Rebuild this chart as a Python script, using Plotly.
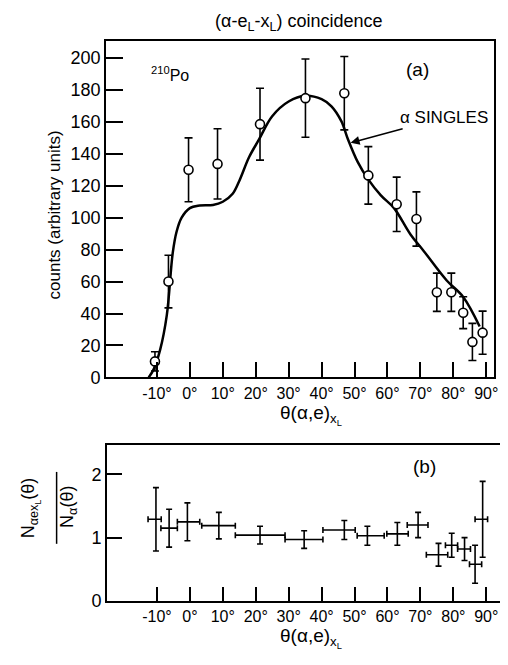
import plotly.graph_objects as go

W, H = 508, 665

# ---- panel (a): coincidence counts ----
theta_a = [-10.6, -6.5, -0.4, 8.4, 21.3, 35.1, 46.9, 54.2, 62.8, 68.8, 75.0, 79.4, 83.0, 85.8, 88.9]
counts_a = [10, 60, 130, 133.7, 158.6, 174.9, 178, 126.5, 108.4, 99.2, 53.3, 53.3, 40.5, 22.2, 28]
err_a = [6, 16.5, 20, 22, 22.5, 24.5, 23, 18, 17, 17, 12, 12, 10, 11.6, 13.5]

# alpha singles curve
theta_s = [-12.5, -11, -9, -7, -5.2, -4, -2.5, 0, 3, 7, 10, 13, 15, 18, 21, 25, 30, 35, 40,
           43, 46, 48, 51, 54, 58, 62, 67, 71, 78, 83, 88]
singles = [0, 5, 17.5, 39, 78, 91.5, 100, 106, 107.6, 108, 110, 115, 123, 138, 149, 163.6,
           172.8, 176.4, 174.3, 169.8, 160.5, 149.2, 134.8, 124.5, 114, 106, 89.5, 79.2,
           60.7, 50.4, 31.9]

# ---- panel (b): ratio ----
theta_b = [-10.3, -6.3, -0.75, 8.8, 21.3, 34.7, 46.9, 53.9, 63.0, 69.3, 75.5, 79.5, 83.4, 86.6, 88.9]
theta_b_lo = [-12.7, -8.8, -3.8, 3.6, 13.8, 28.9, 40.4, 50.8, 59.8, 66.0, 71.8, 77.6, 81.3, 84.9, 86.6]
theta_b_hi = [-8.7, -3.8, 3.0, 13.8, 28.9, 40.4, 50.2, 59.0, 66.3, 72.3, 78.3, 81.3, 85.2, 88.6, 90.4]
ratio_b = [1.29, 1.15, 1.25, 1.19, 1.04, 0.97, 1.12, 1.03, 1.06, 1.20, 0.73, 0.88, 0.82, 0.58, 1.29]
err_b = [0.5, 0.3, 0.3, 0.21, 0.14, 0.14, 0.15, 0.15, 0.18, 0.2, 0.18, 0.19, 0.18, 0.3, 0.6]

xticks = [-10, 0, 10, 20, 30, 40, 50, 60, 70, 80, 90]
xticktext = [f"{v}°" for v in xticks]
yticks_a = [0, 20, 40, 60, 80, 100, 120, 140, 160, 180, 200]
yticks_b = [0, 1, 2]

FONT = "Liberation Sans"

def px(x):
    return x / W

def py(y):
    return 1 - y / H

fig = go.Figure()

fig.add_trace(go.Scatter(
    x=theta_s, y=singles, mode="lines", line=dict(color="black", width=2.5, shape="spline"),
    xaxis="x", yaxis="y", showlegend=False, hoverinfo="skip"))

fig.add_trace(go.Scatter(
    x=theta_a, y=counts_a, mode="markers",
    marker=dict(symbol="circle", size=9, color="white", line=dict(color="black", width=1.6)),
    error_y=dict(type="data", array=err_a, visible=True, color="black", thickness=1.6, width=4),
    xaxis="x", yaxis="y", showlegend=False))

fig.add_trace(go.Scatter(
    x=theta_b, y=ratio_b, mode="markers", marker=dict(size=1, color="black", opacity=0),
    error_y=dict(type="data", array=err_b, visible=True, color="black", thickness=1.6, width=3),
    error_x=dict(type="data", symmetric=False,
                 array=[h - c for h, c in zip(theta_b_hi, theta_b)],
                 arrayminus=[c - l for l, c in zip(theta_b_lo, theta_b)],
                 visible=True, color="black", thickness=1.6, width=3),
    xaxis="x2", yaxis="y2", showlegend=False))

axis_common = dict(showline=True, linewidth=2, linecolor="black", mirror=True,
                   ticks="inside", tickwidth=2, tickcolor="black", showgrid=False,
                   zeroline=False)

fig.update_layout(
    width=W, height=H, margin=dict(l=0, r=0, t=0, b=0),
    paper_bgcolor="white", plot_bgcolor="white",
    font=dict(family=FONT, color="black", size=16),
    xaxis=dict(domain=[px(99), px(490)], range=[-25.4, 92.4], anchor="y",
               tickvals=xticks, ticktext=xticktext, ticklen=15,
               tickfont=dict(size=16), **axis_common),
    yaxis=dict(domain=[py(375), py(33)], range=[0, 211], anchor="x",
               tickvals=yticks_a, ticklen=17, tickfont=dict(size=18), **axis_common),
    xaxis2=dict(domain=[px(100), px(499)], range=[-25.1, 95.1], anchor="y2",
                tickvals=xticks, ticktext=xticktext, ticklen=14,
                tickfont=dict(size=16), **axis_common),
    yaxis2=dict(domain=[py(602), py(443.3)], range=[0, 2.47], anchor="x2",
                tickvals=yticks_b, ticklen=15, tickfont=dict(size=18), **axis_common),
)

def ann(text, x, y, size=16, angle=0):
    fig.add_annotation(text=text, x=px(x), y=py(y), xref="paper", yref="paper",
                       showarrow=False, font=dict(size=size, family=FONT, color="black"),
                       textangle=angle, xanchor="center", yanchor="middle")

ann("(α-e<sub>L</sub>-x<sub>L</sub>) coincidence", 293, 15, 18)
ann("<sup>210</sup>Po", 163, 67, 16)
ann("(a)", 413, 62, 19)
ann("(b)", 420, 465, 19)
ann("θ(α,e)<sub>x<sub>L</sub></sub>", 305, 413, 19)
ann("θ(α,e)<sub>x<sub>L</sub></sub>", 305, 640, 19)
ann("counts (arbitrary units)", 47, 210, 17, -90)
ann("N<sub>αex<sub>L</sub></sub>(θ)", 23, 507, 18, -90)
ann("N<sub>α</sub>(θ)", 61, 507, 18, -90)

fig.add_shape(type="line", xref="paper", yref="paper",
              x0=px(49), x1=px(49), y0=py(471), y1=py(544),
              line=dict(color="black", width=1.5))

fig.add_annotation(text="α SINGLES", x=48.8, y=146.9, xref="x", yref="y",
                   ax=93, ay=-25, axref="pixel", ayref="pixel",
                   showarrow=True, arrowhead=2, arrowsize=1.2, arrowwidth=1.5,
                   arrowcolor="black", font=dict(size=17, family=FONT, color="black"))

fig.write_html("out.html")
